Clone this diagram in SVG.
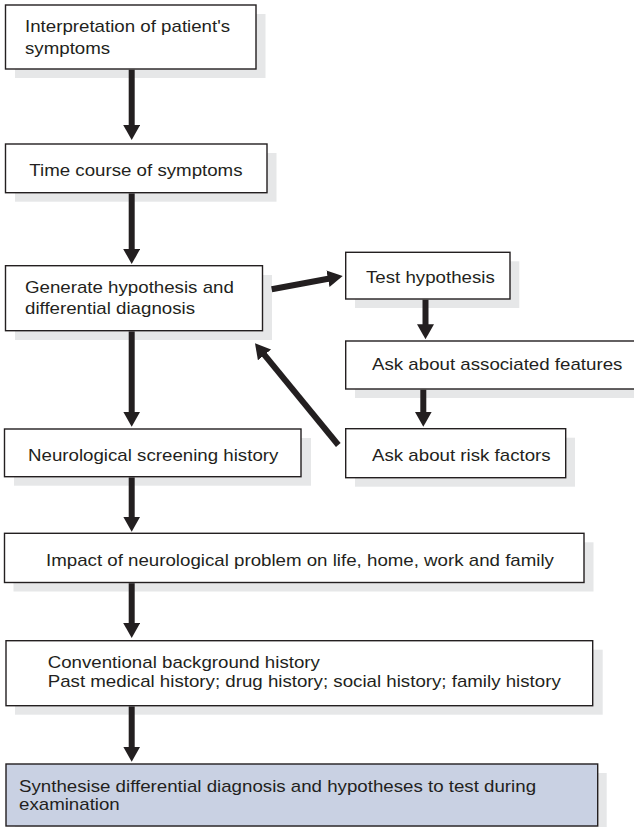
<svg xmlns="http://www.w3.org/2000/svg" width="634" height="827" viewBox="0 0 634 827">
<defs>
<style>
.sh{fill:#e6e7e8;stroke:none}
.bx{fill:#ffffff;stroke:#231f20;stroke-width:1.4}
.blue{fill:#c9d1e3;stroke:#231f20;stroke-width:1.4}
.t{font-family:"Liberation Sans",Arial,Helvetica,sans-serif;font-size:16.4px;fill:#231f20}
.ar{stroke:#231f20;stroke-width:6;fill:none;stroke-linecap:butt;marker-end:url(#ah)}
</style>
<marker id="ah" markerUnits="userSpaceOnUse" markerWidth="16" markerHeight="18" refX="3" refY="8.5" orient="auto" viewBox="0 0 16 18">
<path d="M0,0 L15,8.5 L0,17 z" fill="#231f20"/>
</marker>
</defs>
<rect width="634" height="827" fill="#ffffff"/>

<g id="n1">
<rect class="sh" x="15" y="14" width="250.5" height="64"/>
<rect class="bx" x="5.5" y="5" width="250.5" height="64"/>
<text class="t" transform="translate(25 32.3) scale(1.14 1)">Interpretation of patient's<tspan x="0" y="22">symptoms</tspan></text>
</g>

<g id="n2">
<rect class="sh" x="15" y="153" width="261.5" height="48.7"/>
<rect class="bx" x="5.5" y="144" width="261.5" height="48.7"/>
<text class="t" transform="translate(29.3 175.8) scale(1.14 1)">Time course of symptoms</text>
</g>

<g id="n3">
<rect class="sh" x="15" y="275" width="257" height="65"/>
<rect class="bx" x="5.5" y="265.7" width="257" height="65"/>
<text class="t" transform="translate(25 292.5) scale(1.14 1)">Generate hypothesis and<tspan x="0" y="21.5">differential diagnosis</tspan></text>
</g>

<g id="n4">
<rect class="sh" x="355" y="261.3" width="164.3" height="46.7"/>
<rect class="bx" x="345.7" y="252.3" width="164.3" height="46.7"/>
<text class="t" transform="translate(366 282.7) scale(1.14 1)">Test hypothesis</text>
</g>

<g id="n5">
<rect class="sh" x="355" y="350" width="300" height="48"/>
<rect class="bx" x="345.7" y="341" width="300" height="48"/>
<text class="t" transform="translate(372 370) scale(1.14 1)">Ask about associated features</text>
</g>

<g id="n6">
<rect class="sh" x="14" y="438" width="297" height="47.7"/>
<rect class="bx" x="4.5" y="429" width="296.5" height="47.7"/>
<text class="t" transform="translate(28 460.7) scale(1.14 1)">Neurological screening history</text>
</g>

<g id="n7">
<rect class="sh" x="355" y="437.7" width="220" height="49"/>
<rect class="bx" x="345.7" y="428.7" width="220" height="49"/>
<text class="t" transform="translate(372 460.5) scale(1.14 1)">Ask about risk factors</text>
</g>

<g id="n8">
<rect class="sh" x="13.5" y="542.3" width="580" height="49.2"/>
<rect class="bx" x="4.5" y="533.3" width="579.5" height="49.2"/>
<text class="t" transform="translate(46 566) scale(1.14 1)">Impact of neurological problem on life, home, work and family</text>
</g>

<g id="n9">
<rect class="sh" x="15" y="649.7" width="587.7" height="65"/>
<rect class="bx" x="6" y="640.7" width="586.7" height="65"/>
<text class="t" transform="translate(47.7 668) scale(1.14 1)">Conventional background history<tspan x="0" y="19">Past medical history; drug history; social history; family history</tspan></text>
</g>

<g id="n10">
<rect class="sh" x="15" y="773" width="591.7" height="62"/>
<rect class="blue" x="6" y="764" width="591.7" height="62"/>
<text class="t" transform="translate(19 791.7) scale(1.14 1)">Synthesise differential diagnosis and hypotheses to test during<tspan x="0" y="18.5">examination</tspan></text>
</g>

<g id="connectors">
<line class="ar" x1="131.7" y1="69.7" x2="131.7" y2="128"/>
<line class="ar" x1="131.7" y1="193.4" x2="131.7" y2="252"/>
<line class="ar" x1="131.7" y1="331.4" x2="131.7" y2="414.7"/>
<line class="ar" x1="131.7" y1="477.4" x2="131.7" y2="519.7"/>
<line class="ar" x1="131.7" y1="583.2" x2="131.7" y2="626"/>
<line class="ar" x1="131.7" y1="706.4" x2="131.7" y2="749.7"/>
<line class="ar" x1="425.5" y1="299.7" x2="425.5" y2="327.3"/>
<line class="ar" x1="423.3" y1="389.7" x2="423.3" y2="414.7"/>
<line class="ar" x1="271.7" y1="289.3" x2="330.9" y2="278.2"/>
<line class="ar" x1="338.3" y1="445" x2="262.6" y2="352.6"/>
</g>
</svg>
